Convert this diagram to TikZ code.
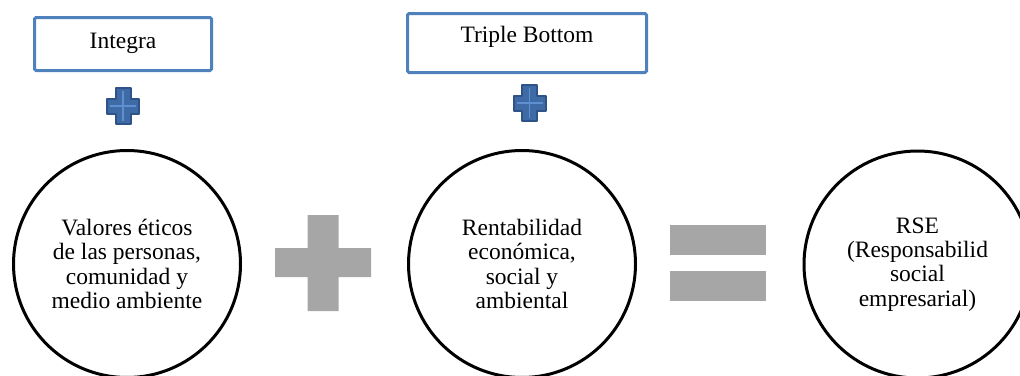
\documentclass[tikz,border=0pt]{standalone}
\usepackage{fontspec}
\setmainfont{Liberation Serif}
\definecolor{boxblue}{HTML}{4F81BD}
\definecolor{crossedge}{HTML}{2F5288}
\definecolor{crossfill}{HTML}{3E6AA6}
\definecolor{crosslight}{HTML}{5E8FD0}
\definecolor{opgrey}{HTML}{A6A6A6}
\begin{document}
\begin{tikzpicture}[x=1pt,y=-1pt,
  tbox/.style={draw=boxblue, line width=3pt, rounded corners=1.5pt, inner sep=0pt},
  ring/.style={circle, draw=black, line width=3pt, minimum size=227pt, inner sep=0pt,
    align=center, font=\fontsize{23.5}{24.2}\selectfont},
  lbl/.style={inner sep=0pt, font=\fontsize{23.5}{24}\selectfont},
  opshape/.style={fill=opgrey},
  bluecross/.pic={
    \filldraw[fill=crossfill, draw=crossedge, line width=2pt, line join=round]
      (-7.5,-18) -- (7.5,-18) -- (7.5,-7.5) -- (16,-7.5) -- (16,7.5) -- (7.5,7.5)
      -- (7.5,18) -- (-7.5,18) -- (-7.5,7.5) -- (-16,7.5) -- (-16,-7.5) -- (-7.5,-7.5) -- cycle;
    \draw[crosslight, line width=1.5pt] (0,-15) -- (0,15) (-13,0) -- (13,0);
  }
]
\useasboundingbox (0,0) rectangle (1020,375);
\clip (0,0) rectangle (1020,375);

% top labels
\node[tbox, minimum width=177pt, minimum height=53pt] (boxA) at (123,44) {};
\node[lbl] (boxAtext) at (123,43) {Integra};
\node[tbox, minimum width=239pt, minimum height=59pt] (boxB) at (527,43) {};
\node[lbl] (boxBtext) at (527,37) {Triple Bottom};

% small plus signs
\pic at (123,106) {bluecross};
\pic at (529.5,103) {bluecross};

% main circles
\node[ring] (valores) at (127,264)
  {Valores éticos\\de las personas,\\comunidad y\\medio ambiente};
\node[ring] (rentab) at (522,264)
  {Rentabilidad\\económica,\\social y\\ambiental};
\node[ring] (rse) at (917.5,264.5)
  {RSE\\(Responsabilid\\social\\empresarial)};

% big plus
\fill[opshape] (307.5,215) -- (338.5,215) -- (338.5,248) -- (371,248) -- (371,277)
  -- (338.5,277) -- (338.5,311) -- (307.5,311) -- (307.5,277) -- (275,277)
  -- (275,248) -- (307.5,248) -- cycle;

% equals sign
\fill[opshape] (670,225) rectangle (766,255);
\fill[opshape] (670,271) rectangle (766,301);
\end{tikzpicture}
\end{document}
